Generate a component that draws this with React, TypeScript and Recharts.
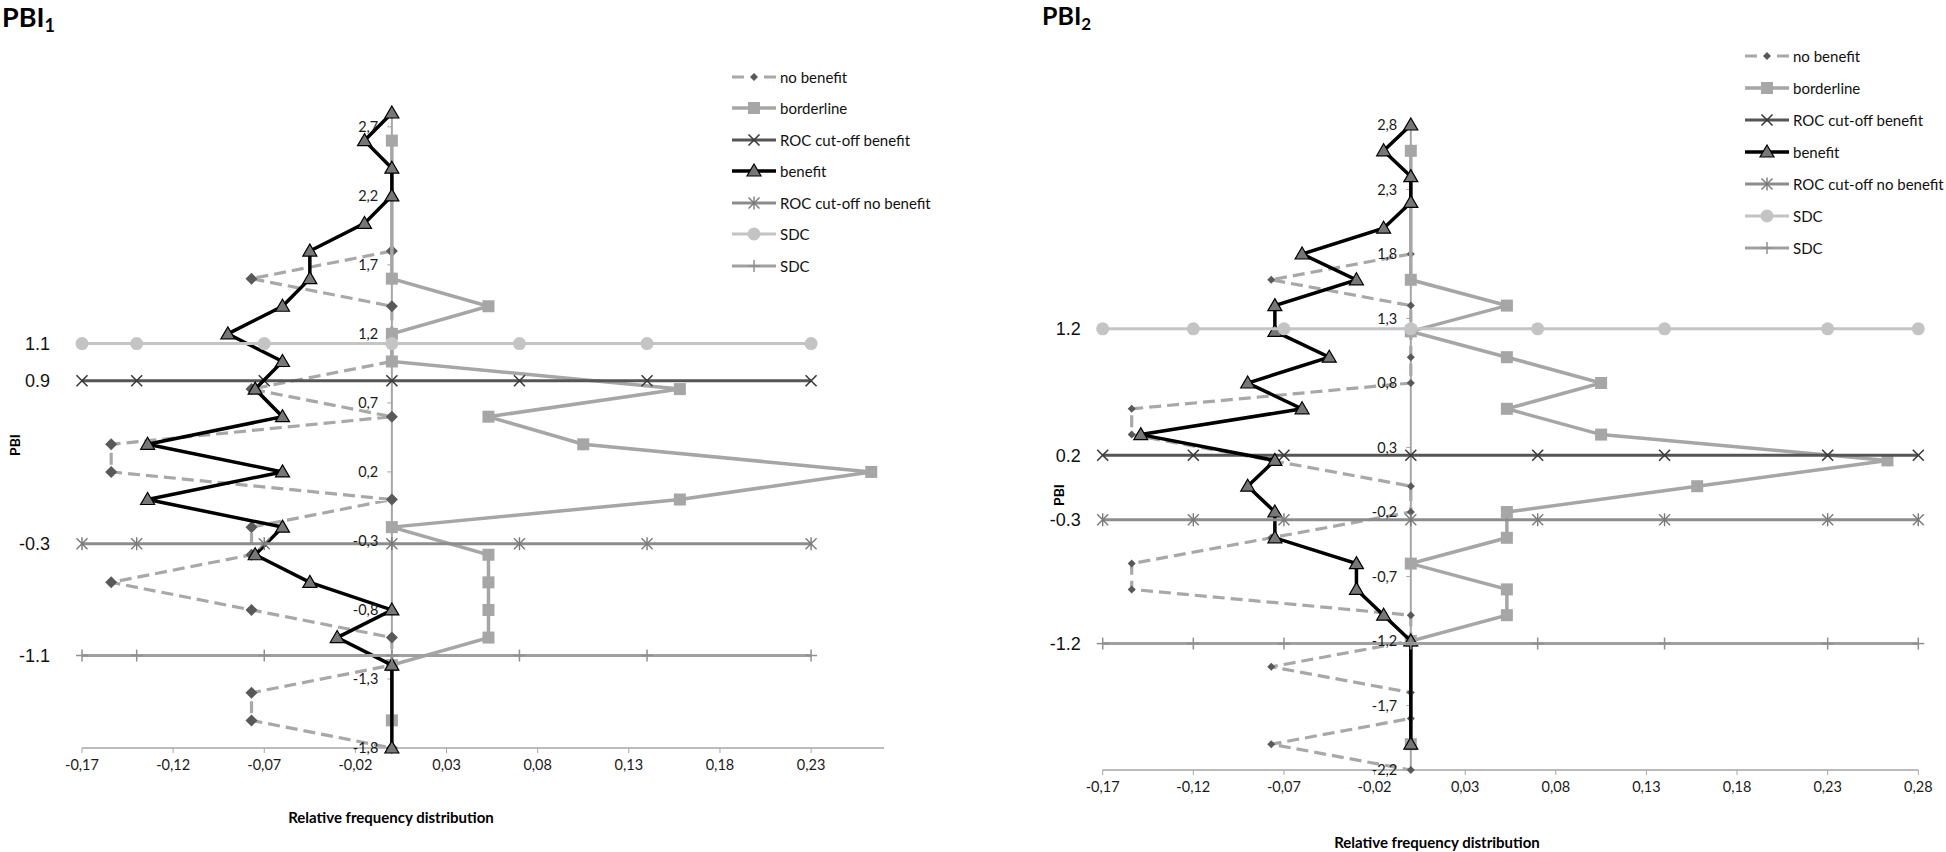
import React from 'react';
import { ScatterChart, Scatter, XAxis, YAxis, ReferenceLine, ReferenceDot } from 'recharts';

const FONT = 'Lato, "Open Sans", sans-serif';

const seriesNames = ['no benefit', 'borderline', 'ROC cut-off benefit', 'benefit', 'ROC cut-off no benefit', 'SDC', 'SDC'];

// ---- PBI1 ----
const pbi1NoBenefitY = [1.8, 1.6, 1.4, 1.2, 1.0, 0.8, 0.6, 0.4, 0.2, 0.0, -0.2, -0.4, -0.6, -0.8, -1.0, -1.2, -1.4, -1.6, -1.8];
const pbi1NoBenefitX = [0, -0.077, 0, 0, 0, -0.077, 0, -0.154, -0.154, 0, -0.077, -0.077, -0.154, -0.077, 0, 0, -0.077, -0.077, 0];
const pbi1BorderlineY = [2.6, 1.6, 1.4, 1.2, 1.0, 0.8, 0.6, 0.4, 0.2, 0.0, -0.2, -0.4, -0.6, -0.8, -1.0, -1.2, -1.6];
const pbi1BorderlineX = [0, 0, 0.053, 0, 0, 0.158, 0.053, 0.105, 0.263, 0.158, 0, 0.053, 0.053, 0.053, 0.053, 0, 0];
const pbi1BenefitY = [2.8, 2.6, 2.4, 2.2, 2.0, 1.8, 1.6, 1.4, 1.2, 1.0, 0.8, 0.6, 0.4, 0.2, 0.0, -0.2, -0.4, -0.6, -0.8, -1.0, -1.2, -1.8];
const pbi1BenefitX = [0, -0.015, 0, 0, -0.015, -0.045, -0.045, -0.06, -0.09, -0.06, -0.075, -0.06, -0.134, -0.06, -0.134, -0.06, -0.075, -0.045, 0, -0.03, 0, 0];
// cut-offs: ROC benefit, ROC no benefit, SDC (+), SDC (-)
const pbi1Cutoffs = [0.86, -0.32, 1.13, -1.13];
const pbi1CutoffLabels = ['0.9', '-0.3', '1.1', '-1.1'];
const pbi1CutoffX = [-0.17, -0.14, -0.07, 0, 0.07, 0.14, 0.23];
const pbi1XTicks = [-0.17, -0.12, -0.07, -0.02, 0.03, 0.08, 0.13, 0.18, 0.23];
const pbi1YTicks = [-1.8, -1.3, -0.8, -0.3, 0.2, 0.7, 1.2, 1.7, 2.2, 2.7];

// ---- PBI2 ----
const pbi2NoBenefitY = [1.8, 1.6, 1.4, 1.2, 1.0, 0.8, 0.6, 0.4, 0.2, 0.0, -0.2, -0.4, -0.6, -0.8, -1.0, -1.2, -1.4, -1.6, -1.8, -2.0, -2.2];
const pbi2NoBenefitX = [0, -0.077, 0, 0, 0, 0, -0.154, -0.154, -0.077, 0, 0, -0.077, -0.154, -0.154, 0, 0, -0.077, 0, 0, -0.077, 0];
const pbi2BorderlineY = [2.6, 1.6, 1.4, 1.2, 1.0, 0.8, 0.6, 0.4, 0.2, 0.0, -0.2, -0.4, -0.6, -0.8, -1.0, -1.2, -2.0];
const pbi2BorderlineX = [0, 0, 0.053, 0, 0.053, 0.105, 0.053, 0.105, 0.263, 0.158, 0.053, 0.053, 0, 0.053, 0.053, 0, 0];
const pbi2BenefitY = [2.8, 2.6, 2.4, 2.2, 2.0, 1.8, 1.6, 1.4, 1.2, 1.0, 0.8, 0.6, 0.4, 0.2, 0.0, -0.2, -0.4, -0.6, -0.8, -1.0, -1.2, -2.0];
const pbi2BenefitX = [0, -0.015, 0, 0, -0.015, -0.06, -0.03, -0.075, -0.075, -0.045, -0.09, -0.06, -0.149, -0.075, -0.09, -0.075, -0.075, -0.03, -0.03, -0.015, 0, 0];
const pbi2Cutoffs = [0.24, -0.26, 1.22, -1.22];
const pbi2CutoffLabels = ['0.2', '-0.3', '1.2', '-1.2'];
const pbi2CutoffX = [-0.17, -0.12, -0.07, 0, 0.07, 0.14, 0.23, 0.28];
const pbi2XTicks = [-0.17, -0.12, -0.07, -0.02, 0.03, 0.08, 0.13, 0.18, 0.23, 0.28];
const pbi2YTicks = [-2.2, -1.7, -1.2, -0.7, -0.2, 0.3, 0.8, 1.3, 1.8, 2.3, 2.8];

type Kind = 'diamond' | 'square' | 'x' | 'triangle' | 'asterisk' | 'circle' | 'plus';

const seriesStyle: { stroke: string; width: number; dash?: string; kind: Kind; color: string }[] = [
  { stroke: '#a8a8a8', width: 3.2, dash: '12 6', kind: 'diamond', color: '#595959' },
  { stroke: '#a6a6a6', width: 3.5, kind: 'square', color: '#a6a6a6' },
  { stroke: '#555555', width: 3, kind: 'x', color: '#3a3a3a' },
  { stroke: '#000000', width: 3.5, kind: 'triangle', color: '#777777' },
  { stroke: '#8c8c8c', width: 3, kind: 'asterisk', color: '#7a7a7a' },
  { stroke: '#c4c4c4', width: 3, kind: 'circle', color: '#c4c4c4' },
  { stroke: '#a0a0a0', width: 3, kind: 'plus', color: '#909090' },
];

function Marker({ kind, cx, cy, color, small }: { kind: Kind; cx: number; cy: number; color: string; small?: boolean }) {
  if (cx == null || cy == null) return null;
  switch (kind) {
    case 'diamond': {
      const d = small ? 4 : 6;
      return <polygon points={`${cx},${cy - d} ${cx + d},${cy} ${cx},${cy + d} ${cx - d},${cy}`} fill={color} />;
    }
    case 'square':
      return <rect x={cx - 6} y={cy - 6} width={12} height={12} fill={color} />;
    case 'x':
      return (
        <g stroke={color} strokeWidth={1.6}>
          <line x1={cx - 5.5} y1={cy - 5.5} x2={cx + 5.5} y2={cy + 5.5} />
          <line x1={cx - 5.5} y1={cy + 5.5} x2={cx + 5.5} y2={cy - 5.5} />
        </g>
      );
    case 'triangle':
      return <polygon points={`${cx},${cy - 7} ${cx + 7},${cy + 5} ${cx - 7},${cy + 5}`} fill={color} stroke="#000" strokeWidth={1.2} />;
    case 'asterisk':
      return (
        <g stroke={color} strokeWidth={1.4}>
          <line x1={cx - 5.5} y1={cy - 5.5} x2={cx + 5.5} y2={cy + 5.5} />
          <line x1={cx - 5.5} y1={cy + 5.5} x2={cx + 5.5} y2={cy - 5.5} />
          <line x1={cx} y1={cy - 6.5} x2={cx} y2={cy + 6.5} />
        </g>
      );
    case 'circle':
      return <circle cx={cx} cy={cy} r={6.5} fill={color} />;
    case 'plus':
      return (
        <g stroke={color} strokeWidth={1.5}>
          <line x1={cx} y1={cy - 6} x2={cx} y2={cy + 6} />
          <line x1={cx - 6} y1={cy} x2={cx + 6} y2={cy} />
        </g>
      );
  }
  return null;
}

const zip = (xs: number[], ys: number[]) => xs.map((x, i) => ({ x, y: ys[i] }));
const fmt2 = (v: number) => v.toFixed(2).replace('.', ',');
const fmt1 = (v: number) => v.toFixed(1).replace('.', ',');

type PanelProps = {
  left: number;
  width: number;
  margin: { top: number; right: number; bottom: number; left: number };
  xDomain: [number, number];
  yDomain: [number, number];
  xTicks: number[];
  yTicks: number[];
  noBenefit: { x: number; y: number }[];
  borderline: { x: number; y: number }[];
  benefit: { x: number; y: number }[];
  cutoffs: number[];
  cutoffLabels: string[];
  cutoffX: number[];
  labelOffset: number;
  smallDiamond?: boolean;
};

function Panel(p: PanelProps) {
  const flat = (v: number) => p.cutoffX.map((x) => ({ x, y: v }));
  // series in legend order
  const sets = [p.noBenefit, p.borderline, flat(p.cutoffs[0]), p.benefit, flat(p.cutoffs[1]), flat(p.cutoffs[2]), flat(p.cutoffs[3])];
  return (
    <div style={{ position: 'absolute', left: p.left, top: 0 }}>
      <ScatterChart width={p.width} height={852} margin={p.margin}>
        <XAxis
          type="number"
          dataKey="x"
          domain={p.xDomain}
          ticks={p.xTicks}
          tickFormatter={fmt2}
          height={30}
          axisLine={{ stroke: '#a6a6a6', strokeWidth: 1.5 }}
          tickLine={{ stroke: '#a6a6a6' }}
          tickSize={5}
          tickMargin={7}
          tick={{ fontSize: 14.5, fill: '#1a1a1a', fontFamily: FONT }}
        />
        <YAxis type="number" dataKey="y" domain={p.yDomain} hide width={0} />
        <ReferenceLine x={0} stroke="#a6a6a6" strokeWidth={2} />
        {p.yTicks.map((t) => (
          <ReferenceLine
            key={t}
            segment={[{ x: -0.0025, y: t }, { x: 0, y: t }]}
            stroke="#a6a6a6"
            label={{ value: fmt1(t), position: 'left', offset: 9, fontSize: 14.5, fill: '#1a1a1a', fontFamily: FONT }}
          />
        ))}
        {sets.map((data, i) => {
          const st = seriesStyle[i];
          return (
            <Scatter
              key={i}
              name={seriesNames[i]}
              data={data}
              isAnimationActive={false}
              line={{ stroke: st.stroke, strokeWidth: st.width, strokeDasharray: st.dash }}
              lineType="joint"
              shape={(sp: any) => <Marker kind={st.kind} cx={sp.cx} cy={sp.cy} color={st.color} small={p.smallDiamond} />}
            />
          );
        })}
        {p.cutoffs.map((v, i) => (
          <ReferenceDot
            key={'c' + i}
            x={p.xDomain[0]}
            y={v}
            r={0}
            fill="none"
            stroke="none"
            label={{ value: p.cutoffLabels[i], position: 'left', offset: p.labelOffset, fontSize: 18, fill: '#111', fontFamily: '"Liberation Sans", Arial, sans-serif' }}
          />
        ))}
      </ScatterChart>
    </div>
  );
}

function LegendBox({ left, top, rowGap }: { left: number; top: number; rowGap: number }) {
  return (
    <div style={{ position: 'absolute', left, top }}>
      {seriesNames.map((name, i) => {
        const st = seriesStyle[i];
        return (
          <div key={i} style={{ display: 'flex', alignItems: 'center', height: rowGap }}>
            <svg width={44} height={16} style={{ marginRight: 4 }}>
              <line x1={0} y1={8} x2={44} y2={8} stroke={st.stroke} strokeWidth={st.width} strokeDasharray={st.dash ? '12 20' : undefined} />
              <Marker kind={st.kind} cx={22} cy={8} color={st.color} small />
            </svg>
            <span style={{ fontFamily: FONT, fontSize: 15, color: '#111', whiteSpace: 'nowrap' }}>{name}</span>
          </div>
        );
      })}
    </div>
  );
}

export default function App() {
  return (
    <div style={{ position: 'absolute', left: 0, top: 0, width: 1946, height: 852, background: '#fff', overflow: 'hidden' }}>
      <Panel
        left={0}
        width={900}
        margin={{ top: 113, right: 16, bottom: 74, left: 82 }}
        xDomain={[-0.17, 0.27]}
        yDomain={[-1.8, 2.8]}
        xTicks={pbi1XTicks}
        yTicks={pbi1YTicks}
        noBenefit={zip(pbi1NoBenefitX, pbi1NoBenefitY)}
        borderline={zip(pbi1BorderlineX, pbi1BorderlineY)}
        benefit={zip(pbi1BenefitX, pbi1BenefitY)}
        cutoffs={pbi1Cutoffs}
        cutoffLabels={pbi1CutoffLabels}
        cutoffX={pbi1CutoffX}
        labelOffset={32}
      />
      <Panel
        left={960}
        width={986}
        margin={{ top: 125, right: 27.7, bottom: 52, left: 142.7 }}
        xDomain={[-0.17, 0.28]}
        yDomain={[-2.2, 2.8]}
        xTicks={pbi2XTicks}
        yTicks={pbi2YTicks}
        noBenefit={zip(pbi2NoBenefitX, pbi2NoBenefitY)}
        borderline={zip(pbi2BorderlineX, pbi2BorderlineY)}
        benefit={zip(pbi2BenefitX, pbi2BenefitY)}
        cutoffs={pbi2Cutoffs}
        cutoffLabels={pbi2CutoffLabels}
        cutoffX={pbi2CutoffX}
        labelOffset={22}
        smallDiamond
      />
      <LegendBox left={732} top={61} rowGap={31.5} />
      <LegendBox left={1745} top={40} rowGap={32} />
      <svg width={1946} height={852} style={{ position: 'absolute', left: 0, top: 0, pointerEvents: 'none' }}>
        <text x={2} y={27} fontFamily={FONT} fontWeight={700} fontSize={27} fill="#000">
          PBI<tspan fontSize={18} dy={5}>1</tspan>
        </text>
        <text x={1042} y={25} fontFamily={FONT} fontWeight={700} fontSize={25} fill="#000">
          PBI<tspan fontSize={17} dy={5}>2</tspan>
        </text>
        <text x={391} y={817} textAnchor="middle" dominantBaseline="central" fontFamily={FONT} fontWeight={700} fontSize={15} fill="#000">
          Relative frequency distribution
        </text>
        <text x={1437} y={842} textAnchor="middle" dominantBaseline="central" fontFamily={FONT} fontWeight={700} fontSize={15} fill="#000">
          Relative frequency distribution
        </text>
        <text x={14} y={445} textAnchor="middle" dominantBaseline="central" transform="rotate(-90 14 445)" fontFamily={FONT} fontWeight={700} fontSize={14} fill="#000">
          PBI
        </text>
        <text x={1058} y={495} textAnchor="middle" dominantBaseline="central" transform="rotate(-90 1058 495)" fontFamily={FONT} fontWeight={700} fontSize={14} fill="#000">
          PBI
        </text>
      </svg>
    </div>
  );
}
